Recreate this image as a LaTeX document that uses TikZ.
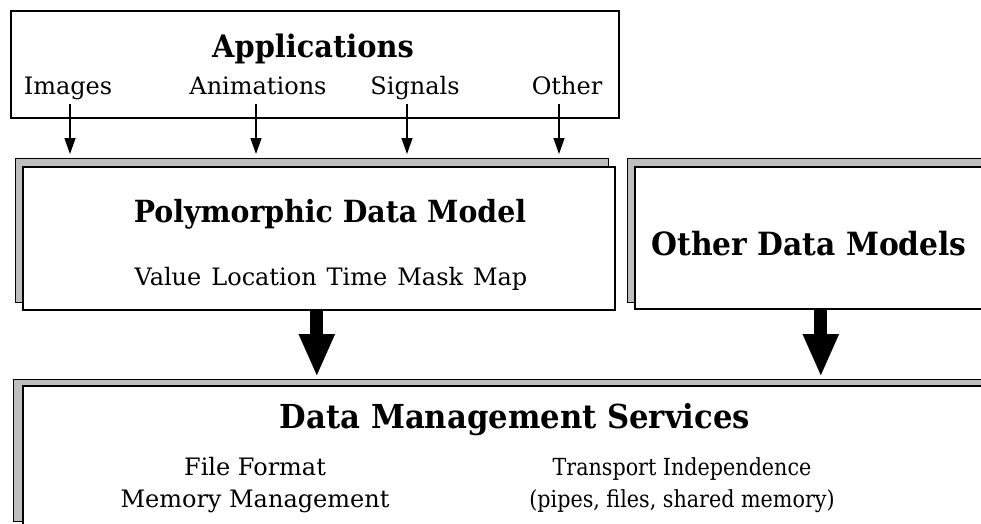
\documentclass[tikz,border=0pt]{standalone}
\usepackage{fontspec}
\setmainfont{DejaVu Serif}
\newfontfamily\headfont{DejaVu Serif}[FakeStretch=0.93]
\newfontfamily\narrowfont{DejaVu Serif}[FakeStretch=0.88]
\usetikzlibrary{arrows.meta}
\definecolor{shadegray}{RGB}{190,190,190}
\begin{document}
\begin{tikzpicture}[x=1pt,y=-1pt,
  frame/.style={draw=black, line width=1.6pt, fill=white, rectangle, inner sep=0pt, anchor=north west},
  backframe/.style={draw=black, line width=1.4pt, fill=shadegray, rectangle, inner sep=0pt, anchor=north west},
  heading/.style={font=\headfont\bfseries\fontsize{31}{36}\selectfont, anchor=base, inner sep=0pt},
  txt/.style={font=\fontsize{24}{30}\selectfont, anchor=base, inner sep=0pt},
  narrowtxt/.style={font=\narrowfont\fontsize{23.5}{28}\selectfont, anchor=base, inner sep=0pt},
  feed/.style={line width=1.3pt, -{Triangle[width=11pt,length=16pt]}, shorten <=10pt, shorten >=4pt},
  bigarrow/.style={line width=13pt, -{Triangle[width=33pt,length=43pt]}, shorten >=2pt},
]
\useasboundingbox (0,0) rectangle (981,523);
\clip (0,0) rectangle (981,523);

% applications box
\node[frame, minimum width=608pt, minimum height=107pt] (apps) at (10,10) {};
\node[heading] (appstitle) at (313,57) {Applications};
\node[txt] (images) at (68,94) {Images};
\node[txt] (anims) at (258,94) {Animations};
\node[txt] (signals) at (415,94) {Signals};
\node[txt] (other) at (567,94) {Other};

% polymorphic data model
\node[backframe, minimum width=593pt, minimum height=144pt] (polyback) at (15,158) {};
\node[frame, minimum width=592pt, minimum height=143pt] (poly) at (22,166) {};
\node[heading, font=\headfont\bfseries\fontsize{30.5}{36}\selectfont] (polytitle) at (330,222) {Polymorphic Data Model};
\node[txt] (polyparts) at (331,285) {Value\hspace{10pt}Location\hspace{10pt}Time\hspace{10pt}Mask\hspace{10pt}Map};

% other data models
\node[backframe, minimum width=372pt, minimum height=144pt] (otherback) at (627,158) {};
\node[frame, minimum width=372pt, minimum height=142pt] (othermod) at (634,166) {};
\node[heading, font=\headfont\bfseries\fontsize{32}{36}\selectfont] (othertitle) at (809,255) {Other Data Models};

% data management services
\node[backframe, minimum width=1000pt, minimum height=142pt] (dmsback) at (13,379) {};
\node[frame, minimum width=1000pt, minimum height=160pt] (dms) at (22,385) {};
\node[heading, font=\headfont\bfseries\fontsize{33}{36}\selectfont] (dmstitle) at (515,428) {Data Management Services};
\node[txt] (fileformat) at (255,475) {File Format};
\node[txt] (memory) at (255,507) {Memory Management};
\node[narrowtxt] (transport) at (682,475) {Transport Independence};
\node[narrowtxt] (pipes) at (682,507) {(pipes, files, shared memory)};

% feeds from the applications
\draw[feed] ([xshift=2pt]images.base) -- ([xshift=2pt]images.base |- polyback.north);
\draw[feed] ([xshift=-2pt]anims.base) -- ([xshift=-2pt]anims.base |- polyback.north);
\draw[feed] ([xshift=-8pt]signals.base) -- ([xshift=-8pt]signals.base |- polyback.north);
\draw[feed] ([xshift=-8pt]other.base) -- ([xshift=-8pt]other.base |- polyback.north);

% data models down to the services
\draw[bigarrow] ([xshift=-2pt]poly.south) -- ([xshift=-2pt]poly.south |- dmsback.north);
\draw[bigarrow] (othermod.south) -- (othermod.south |- dmsback.north);
\end{tikzpicture}
\end{document}
